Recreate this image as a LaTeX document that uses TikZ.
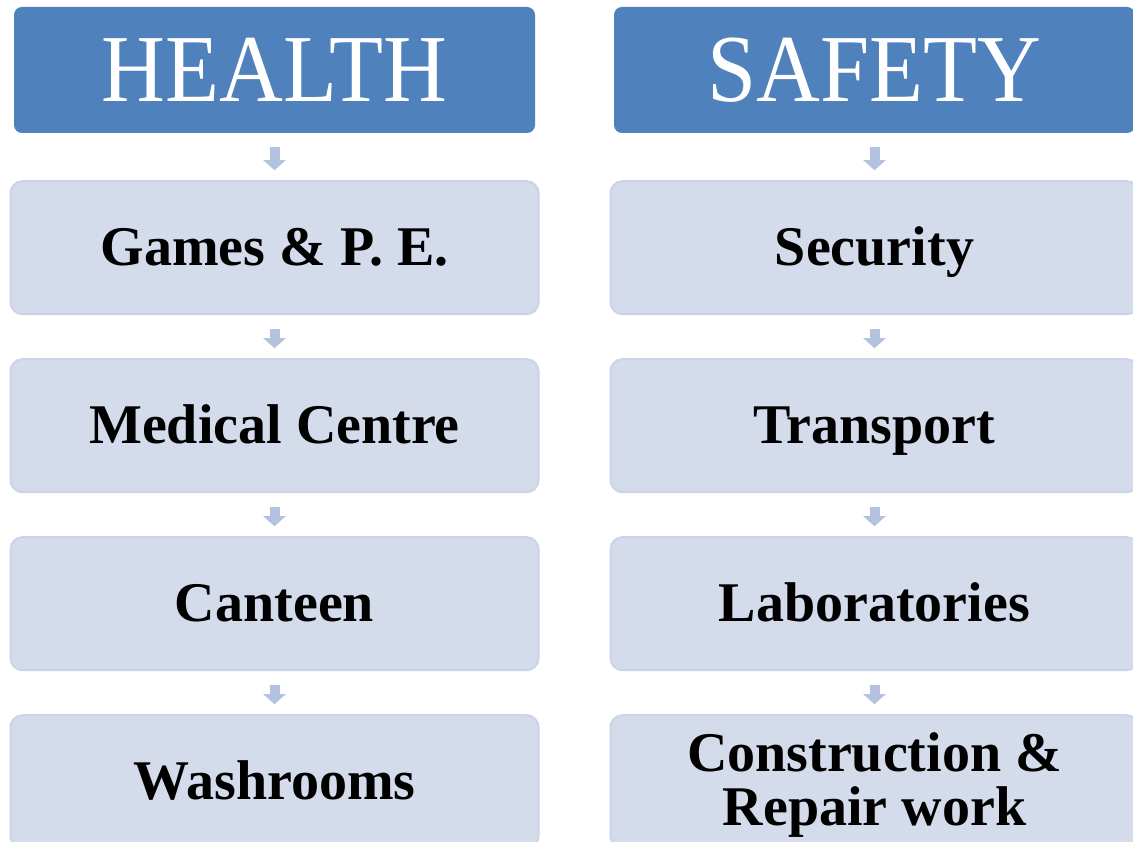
\documentclass[tikz,border=0pt]{standalone}
\usepackage{fontspec}
\setmainfont{Liberation Serif}
\newfontfamily\headfont[FakeStretch=0.92]{Liberation Serif}
\usetikzlibrary{arrows.meta,positioning}
\definecolor{headblue}{HTML}{4F81BD}
\definecolor{itemfill}{HTML}{D4DCEB}
\definecolor{itemline}{HTML}{CAD3E7}
\definecolor{arrowfill}{HTML}{B2C2DF}

\begin{document}
\begin{tikzpicture}[
        x=1pt,y=-1pt,
        head/.style={
          fill=headblue,text=white,
          rounded corners=8pt,
          minimum width=521pt,
          minimum height=126pt,
          inner sep=0pt,
          font=\headfont\fontsize{96}{96}\selectfont
        },
        item/.style={
          fill=itemfill,draw=itemline,line width=2pt,
          rounded corners=12pt,
          minimum width=528pt,
          minimum height=133pt,
          inner sep=0pt,align=center,
          text height=45pt,text depth=10pt,
          font=\bfseries\fontsize{56}{54}\selectfont
        },
        flow/.style={
          draw=arrowfill,line width=10pt,
          -{Triangle[width=22pt,length=10pt]},
          shorten <=14pt,shorten >=10pt
        },
      ]
      \useasboundingbox (0,0) rectangle (1133,842);

      % health column
      \node[head] (health) at (274.5,70) {HEALTH};
      \node[item,below=47pt of health] (games) {Games \& P. E.};
      \node[item,below=43pt of games] (medical) {Medical Centre};
      \node[item,below=43pt of medical] (canteen) {Canteen};
      \node[item,below=43pt of canteen] (washrooms) {Washrooms};

      % safety column
      \node[head] (safety) at (874.5,70) {SAFETY};
      \node[item,below=47pt of safety] (security) {Security};
      \node[item,below=43pt of security] (transport) {Transport};
      \node[item,below=43pt of transport] (labs) {Laboratories};
      \node[item,below=43pt of labs,text height=97pt] (construction) {Construction \&\\Repair work};

      \draw[flow] (health) -- (games);
      \draw[flow] (games) -- (medical);
      \draw[flow] (medical) -- (canteen);
      \draw[flow] (canteen) -- (washrooms);
      \draw[flow] (safety) -- (security);
      \draw[flow] (security) -- (transport);
      \draw[flow] (transport) -- (labs);
      \draw[flow] (labs) -- (construction);
    \end{tikzpicture}
\end{document}
